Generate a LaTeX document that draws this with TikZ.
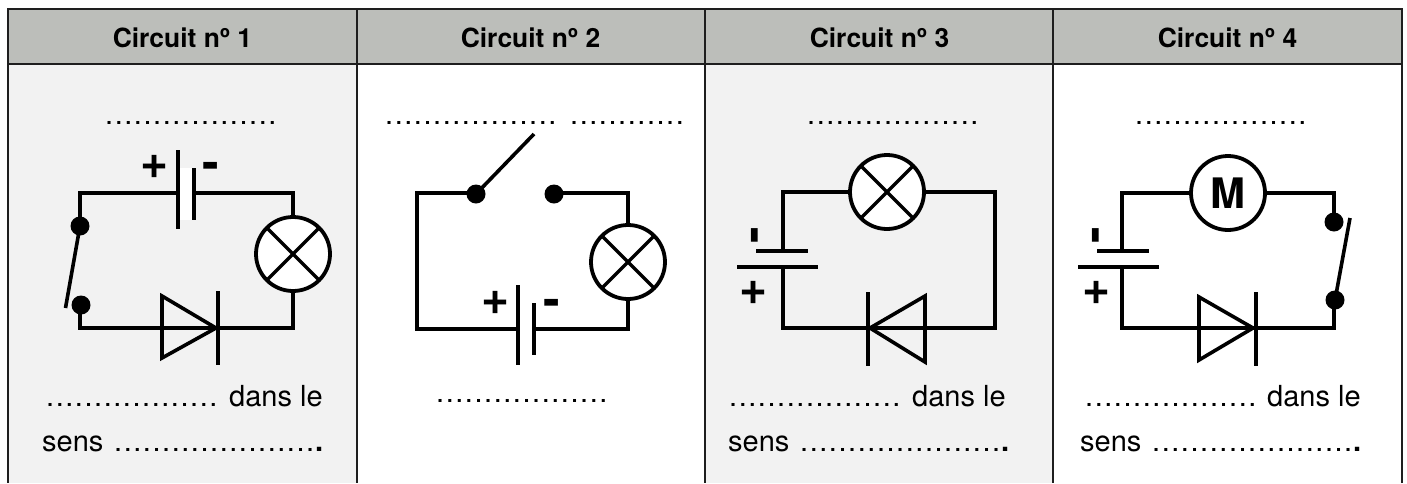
\documentclass[tikz,border=0pt]{standalone}
\usepackage{fontspec}
\setmainfont{TeX Gyre Heros}
\newfontfamily\dotfont[LetterSpace=5.3]{TeX Gyre Heros}
\newfontfamily\ordfont{Open Sans}
\definecolor{headgrey}{HTML}{BCBEBA}
\definecolor{cellgrey}{HTML}{F2F2F2}
\definecolor{gridline}{HTML}{1E1E1E}
\newcommand{\rowdots}{\dotfont\fontsize{29}{29}\selectfont ..................}
\newcommand{\rowdotsshort}{\dotfont\fontsize{29}{29}\selectfont ............}
\newcommand{\rowdotslong}{\dotfont\fontsize{29}{29}\selectfont .....................\kern0.8pt{\bfseries.}}
\newcommand{\headlabel}[1]{Circuit n{\ordfont º} #1}
\begin{document}
\begin{tikzpicture}[x=1pt,y=-1pt,
  wire/.style={line width=3.6pt,line join=miter},
  grid/.style={line width=2.8pt,draw=gridline},
  lamp/.style={circle,draw,line width=3.8pt,fill=white,minimum size=74pt,inner sep=0pt,
    path picture={\draw[line width=3.4pt] (path picture bounding box.north west)--(path picture bounding box.south east)
      (path picture bounding box.north east)--(path picture bounding box.south west);}},
  motor/.style={circle,draw,line width=3.8pt,fill=white,minimum size=74pt,inner sep=0pt,font=\fontsize{42}{42}\selectfont\bfseries},
  contact/.style={circle,fill=black,minimum size=19pt,inner sep=0pt},
  headtxt/.style={inner sep=0pt,anchor=base,font=\fontsize{26.4}{26}\selectfont\bfseries},
  txt/.style={inner sep=0pt,anchor=base west,font=\fontsize{29}{29}\selectfont},
  plus/.style={inner sep=0pt,font=\fontsize{48}{48}\selectfont\bfseries},
  minus/.style={inner sep=0pt,font=\fontsize{50}{50}\selectfont\bfseries},
]
\useasboundingbox (0,0) rectangle (1407,483);
% table
\fill[cellgrey] (8,64) rectangle (357,483);
\fill[cellgrey] (705,64) rectangle (1053,483);
\fill[headgrey] (8,9) rectangle (1402,64);
\draw[grid] (1402,483)--(1402,9)--(8,9)--(8,483);
\draw[grid] (8,64)--(1402,64);
\draw[grid] (357,9)--(357,483);
\draw[grid] (705,9)--(705,483);
\draw[grid] (1053,9)--(1053,483);
\node[headtxt] (h1) at (182.5,47.5) {\headlabel{1}};
\node[headtxt] (h2) at (530.5,47.5) {\headlabel{2}};
\node[headtxt] (h3) at (879.5,47.5) {\headlabel{3}};
\node[headtxt] (h4) at (1227.5,47.5) {\headlabel{4}};

% ---- circuit 1
\node[txt] (d1a) at (105,124) {\rowdots};
\node[lamp] (l1) at (293,254) {};
\node[contact] (s1a) at (80,226) {};
\node[contact] (s1b) at (81,305) {};
\coordinate (s1e) at (65.5,308);
\draw[wire] (s1a.center)--(s1e);
\coordinate (b1p) at (178,193);
\coordinate (b1m) at (194,193);
\coordinate (dd1) at (218,328);
\draw[wire] (b1p)--(80,193)--(s1a.center);
\draw[wire] (b1m)--(293,193)--(l1.north);
\draw[wire] (80,305)--(80,328)--(dd1)--(293,328)--(l1.south);
\fill[white] (180,168) rectangle (193,220);
\draw[wire] (178,150)--(178,229);
\draw[wire] (194,168)--(194,220);
\draw[wire] (162,296)--(216,328)--(162,358)--cycle;
\draw[wire] (218,291)--(218,365);
\node[plus] (p1) at (154.5,167) {+};
\node[minus] (m1) at (210.5,171) {-};
\node[txt] (d1b) at (46,406) {\rowdots};
\node[txt] (t1b) at (229,406) {dans le};
\node[txt] (t1c) at (42,451) {sens};
\node[txt] (d1c) at (114,451) {\rowdotslong};

% ---- circuit 2
\node[txt] (d2a) at (385,124) {\rowdots};
\node[txt] (d2b) at (570,124) {\rowdotsshort};
\node[lamp] (l2) at (628,262) {};
\node[contact] (s2a) at (476,194) {};
\node[contact] (s2b) at (554,194) {};
\coordinate (s2e) at (534,134);
\draw[wire] (s2a.center)--(s2e);
\coordinate (b2p) at (518,329);
\coordinate (b2m) at (534,329);
\draw[wire] (476,193)--(417,193)--(417,329)--(b2p);
\draw[wire] (554,193)--(628,193)--(l2.north);
\draw[wire] (b2m)--(628,329)--(l2.south);
\draw[wire] (518,285)--(518,365);
\draw[wire] (534,303)--(534,355);
\node[plus] (p2) at (496,303) {+};
\node[minus] (m2) at (551.5,308) {-};
\node[txt] (d2c) at (436,402) {\rowdots};

% ---- circuit 3
\node[txt] (d3a) at (807,124) {\rowdots};
\node[lamp] (l3) at (887,192) {};
\coordinate (b3m) at (783,251);
\coordinate (b3p) at (783,267);
\coordinate (dd3) at (868,328);
\draw[wire] (l3.west)--(783,192)--(b3m);
\draw[wire] (l3.east)--(995,192)--(995,328)--(dd3)--(783,328)--(b3p);
\draw[wire] (756,251)--(808,251);
\draw[wire] (737,267)--(818,267);
\draw[wire] (925,296)--(870,328)--(925,362)--cycle;
\draw[wire] (868,292)--(868,366);
\node[minus,rotate=90] (m3) at (760,235) {-};
\node[plus] (p3) at (754,293) {+};
\node[txt] (d3b) at (729,406) {\rowdots};
\node[txt] (t3b) at (912,406) {dans le};
\node[txt] (t3c) at (728,451) {sens};
\node[txt] (d3c) at (800,451) {\rowdotslong};

% ---- circuit 4
\node[txt] (d4a) at (1135,124) {\rowdots};
\node[motor] (mo) at (1228,193) {M};
\node[contact] (s4a) at (1334,222) {};
\node[contact] (s4b) at (1335,300) {};
\coordinate (s4e) at (1350,218);
\draw[wire] (s4b.center)--(s4e);
\coordinate (b4m) at (1122,251);
\coordinate (b4p) at (1122,267);
\coordinate (dd4) at (1256,328);
\draw[wire] (mo.west)--(1122,193)--(b4m);
\draw[wire] (mo.east)--(1334,193)--(s4a.center);
\draw[wire] (1334,300)--(1334,328)--(dd4)--(1122,328)--(b4p);
\draw[wire] (1097,251)--(1149,251);
\draw[wire] (1078,267)--(1159,267);
\draw[wire] (1199,297)--(1253,328)--(1199,360)--cycle;
\draw[wire] (1256,292)--(1256,366);
\node[minus,rotate=90] (m4) at (1101,235) {-};
\node[plus] (p4) at (1096,293) {+};
\node[txt] (d4b) at (1085,406) {\rowdots};
\node[txt] (t4b) at (1267,406) {dans le};
\node[txt] (t4c) at (1080,451) {sens};
\node[txt] (d4c) at (1152,451) {\rowdotslong};
\end{tikzpicture}
\end{document}
